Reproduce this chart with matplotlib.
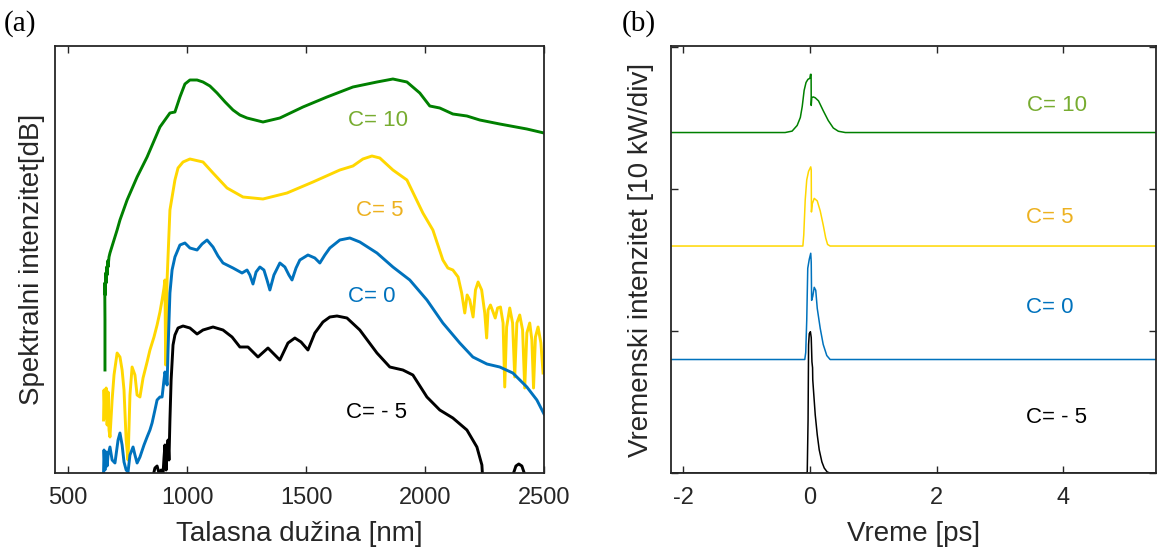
import numpy as np
import matplotlib
matplotlib.use('Agg')
import matplotlib.pyplot as plt

plt.rcParams['font.family'] = ['Liberation Sans', 'DejaVu Sans']
plt.rcParams['axes.unicode_minus'] = False

# (a) spectra, wavelength [nm] vs relative level (arbitrary dB units)
wl_c10 = [655, 655, 654, 656, 658, 660, 662, 664, 666, 668, 672, 676, 689, 706, 718, 748, 790, 832, 886, 928,
          949, 970, 991, 1012, 1042, 1067, 1096, 1126, 1160, 1193, 1222, 1252, 1319, 1390, 1487, 1588, 1697,
          1798, 1865, 1924, 1978, 2020, 2062, 2117, 2176, 2230, 2314, 2428, 2500]
lvl_c10 = [103, 153, 190, 178, 200, 190, 206, 198, 212, 206, 216, 220, 230, 243, 253, 273, 296, 316, 346, 360,
           361, 376, 389, 393, 393, 391, 387, 380, 371, 363, 358, 355, 351, 355, 366, 376, 386,
           391, 394, 391, 380, 367, 365, 359, 357, 353, 349, 344, 340]

wl_c5 = [649, 651, 655, 660, 664, 668, 672, 676, 685, 693, 706, 718, 727, 735, 744, 752, 760, 769, 781, 790,
         802, 815, 832, 844, 861, 874, 886, 895, 903, 907, 910, 914, 916, 928, 949, 962, 983, 1012, 1067, 1109,
         1168, 1235, 1319, 1420, 1529, 1642, 1697, 1739, 1777, 1810, 1865, 1924, 1991, 2033, 2075, 2096, 2117,
         2139, 2154, 2167, 2177, 2188, 2202, 2212, 2223, 2238, 2251, 2259, 2265, 2275, 2286, 2295, 2305, 2317,
         2328, 2335, 2343, 2356, 2368, 2377, 2386, 2398, 2410, 2419, 2428, 2440, 2449, 2456, 2464, 2475, 2487, 2496]
lvl_c5 = [53, 83, 55, 85, 48, 81, 43, 36, 73, 98, 120, 116, 103, 83, 33, 13, 78, 106, 98, 78,
          76, 95, 111, 123, 136, 148, 161, 173, 185, 193, 108, 143, 193, 263, 293, 305, 311, 314, 311, 300,
          285, 276, 274, 280, 291, 303, 307, 314, 317, 315, 303, 293, 260, 243, 213, 205, 203,
          196, 180, 160, 178, 173, 156, 183, 191, 183, 160, 135, 163, 168, 161, 155, 165, 166,
          150, 86, 146, 165, 150, 96, 150, 158, 143, 85, 140, 150, 133, 85, 136, 146, 130, 100]

wl_c0 = [649, 651, 655, 660, 664, 668, 676, 685, 697, 710, 718, 727, 735, 744, 752, 760, 773, 781, 790, 802,
         819, 832, 844, 853, 865, 874, 886, 895, 903, 907, 912, 916, 920, 928, 937, 949, 970, 991, 1012, 1042,
         1063, 1084, 1109, 1130, 1151, 1193, 1231, 1252, 1264, 1277, 1290, 1306, 1323, 1336, 1348, 1365, 1390,
         1411, 1428, 1441, 1458, 1474, 1508, 1537, 1558, 1579, 1600, 1642, 1684, 1726, 1798, 1865, 1936, 2008,
         2075, 2146, 2201, 2260, 2314, 2369, 2428, 2470, 2500]
lvl_c0 = [0, 23, 3, 21, 7, 18, 26, 13, 10, 33, 40, 28, 11, 3, 1, 18, 26, 18, 10, 16,
          28, 36, 43, 50, 63, 73, 76, 76, 93, 101, 95, 88, 123, 180, 203, 216, 228, 230, 225, 223,
          229, 233, 226, 217, 210, 205, 200, 203, 198, 189, 201, 206, 203, 193, 183, 198, 210,
          206, 198, 193, 205, 213, 218, 215, 210, 218, 225, 233, 235, 231, 220, 206, 193, 173,
          150, 130, 116, 109, 106, 100, 86, 73, 59]

wl_cm5 = [853, 865, 874, 882, 891, 899, 903, 907, 912, 916, 920, 924, 928, 933, 941, 949, 962, 983, 1012, 1042,
          1067, 1109, 1151, 1189, 1222, 1256, 1298, 1340, 1390, 1424, 1453, 1479, 1508, 1537, 1571, 1600, 1630,
          1672, 1726, 1798, 1852, 1907, 1949, 2008, 2062, 2117, 2176, 2218, 2239, 2251, 2335, 2365, 2382, 2394,
          2407, 2424, 2440]
lvl_cm5 = [-7, 5, 7, 0, 3, -1, 15, 28, 3, 23, 33, 13, 53, 93, 128, 138, 145, 147, 145, 139,
           143, 146, 143, 136, 126, 126, 116, 125, 113, 130, 135, 131, 123, 140, 151, 156, 157,
           155, 143, 120, 106, 103, 98, 76, 63, 55, 43, 26, 8, -40, -40, -5, 7, 9,
           7, -5, -40]

# (b) pulses, time [ps] vs power [kW], traces stacked by 8 kW
t_cm5 = [-2.5, -0.057, -0.041, -0.028, -0.020, -0.009, 0.009, 0.022, 0.033, 0.043, 0.046, 0.058, 0.085,
         0.117, 0.148, 0.19, 0.227, 0.274, 0.32, 6.0]
p_cm5 = [0, 0, 0.07, 3.75, 9.05, 9.82, 9.96, 9.54, 7.84, 7.42, 6.57, 5.80, 4.10,
         2.69, 1.63, 0.78, 0.35, 0.07, 0, 0]

t_c0 = [-2.5, -0.08, -0.065, -0.049, -0.033, -0.009, 0.014, 0.022, 0.028, 0.046, 0.069, 0.093, 0.117,
        0.164, 0.211, 0.267, 0.32, 6.0]
p_c0 = [0, 0, 0.49, 2.76, 6.43, 7.07, 7.49, 6.86, 4.17, 4.45, 5.09, 4.88, 3.60,
        2.19, 1.06, 0.28, 0, 0]

t_c5 = [-2.5, -0.11, -0.096, -0.073, -0.049, -0.02, 0.014, 0.022, 0.025, 0.038, 0.069, 0.117, 0.164,
        0.211, 0.25, 0.28, 0.32, 6.0]
p_c5 = [0, 0, 0.78, 3.25, 4.66, 5.27, 5.58, 5.37, 2.40, 2.97, 3.36, 3.18, 2.47,
        1.48, 0.57, 0.11, 0, 0]

t_c10 = [-2.5, -0.39, -0.28, -0.20, -0.15, -0.12, -0.09, -0.06, -0.03, 0.0, 0.01, 0.02, 0.022, 0.03,
         0.054, 0.085, 0.137, 0.21, 0.29, 0.37, 0.45, 0.56, 6.0]
p_c10 = [0, 0, 0.1, 0.5, 1.06, 1.84, 2.97, 3.53, 3.75, 3.82, 4.1, 4.1, 1.91, 2.47,
         2.51, 2.45, 2.23, 1.55, 0.85, 0.32, 0.09, 0, 0]

offsets = [0, 8, 16, 24]
labels = ['C= - 5', 'C= 0', 'C= 5', 'C= 10']

LINE_COLORS = ['black', '#0072BD', '#FFD700', '#008000']
TEXT_COLORS = ['black', '#0072BD', '#EDB120', '#77AC30']
AX_COLOR = '#262626'

W, H = 1157, 553
fig = plt.figure(figsize=(W / 100, H / 100), dpi=100)
ax1 = fig.add_axes([55 / W, 80 / H, 489 / W, 427 / H])
ax2 = fig.add_axes([671 / W, 80 / H, 485 / W, 427 / H])

for ax in (ax1, ax2):
    for s in ax.spines.values():
        s.set_color(AX_COLOR)
        s.set_linewidth(1.3)
    ax.tick_params(direction='in', length=5, width=1.0, color=AX_COLOR, labelsize=17,
                   labelcolor=AX_COLOR, top=True, right=True, pad=10)

# spectra
spectra = [(wl_cm5, lvl_cm5), (wl_c0, lvl_c0), (wl_c5, lvl_c5), (wl_c10, lvl_c10)]
for i in [3, 2, 1, 0]:
    wl, lvl = spectra[i]
    ax1.plot(wl, lvl, color=LINE_COLORS[i], lw=2.1, solid_joinstyle='round')

ax1.text(1802, 352, labels[3], color=TEXT_COLORS[3], fontsize=16, ha='center', va='center')
ax1.text(1810, 262, labels[2], color=TEXT_COLORS[2], fontsize=16, ha='center', va='center')
ax1.text(1777, 176, labels[1], color=TEXT_COLORS[1], fontsize=16, ha='center', va='center')
ax1.text(1798, 61, labels[0], color=TEXT_COLORS[0], fontsize=16, ha='center', va='center')

ax1.set_xlim(445, 2500)
ax1.set_ylim(0, 427)
ax1.set_xticks([500, 1000, 1500, 2000, 2500])
ax1.tick_params(axis='y', left=False, right=False, labelleft=False)
ax1.set_xlabel('Talasna dužina [nm]', fontsize=20, color=AX_COLOR, labelpad=9)
ax1.set_ylabel('Spektralni intenzitet[dB]', fontsize=20, color=AX_COLOR, labelpad=7)

# pulses
pulses = [(t_cm5, p_cm5), (t_c0, p_c0), (t_c5, p_c5), (t_c10, p_c10)]
for i in [3, 2, 1, 0]:
    t, p = pulses[i]
    ax2.plot(t, np.array(p) + offsets[i], color=LINE_COLORS[i], lw=1.1)

ax2.text(3.90, 25.94, labels[3], color=TEXT_COLORS[3], fontsize=16, ha='center', va='center')
ax2.text(3.79, 18.0, labels[2], color=TEXT_COLORS[2], fontsize=16, ha='center', va='center')
ax2.text(3.79, 11.66, labels[1], color=TEXT_COLORS[1], fontsize=16, ha='center', va='center')
ax2.text(3.89, 3.89, labels[0], color=TEXT_COLORS[0], fontsize=16, ha='center', va='center')

ax2.set_xlim(-2.19, 5.46)
ax2.set_ylim(0, 30.1)
ax2.set_xticks([-2, 0, 2, 4])
ax2.set_yticks([0, 10, 20, 30])
ax2.tick_params(axis='y', labelleft=False)
ax2.set_xlabel('Vreme [ps]', fontsize=20, color=AX_COLOR, labelpad=9)
ax2.set_ylabel('Vremenski intenzitet [10 kW/div]', fontsize=20, color=AX_COLOR, labelpad=12)

fig.text(4 / W, 1 - 10 / H, '(a)', family='Liberation Serif', fontsize=21, va='top', ha='left')
fig.text(622 / W, 1 - 10 / H, '(b)', family='Liberation Serif', fontsize=21, va='top', ha='left')

fig.savefig('out.png', dpi=100)
